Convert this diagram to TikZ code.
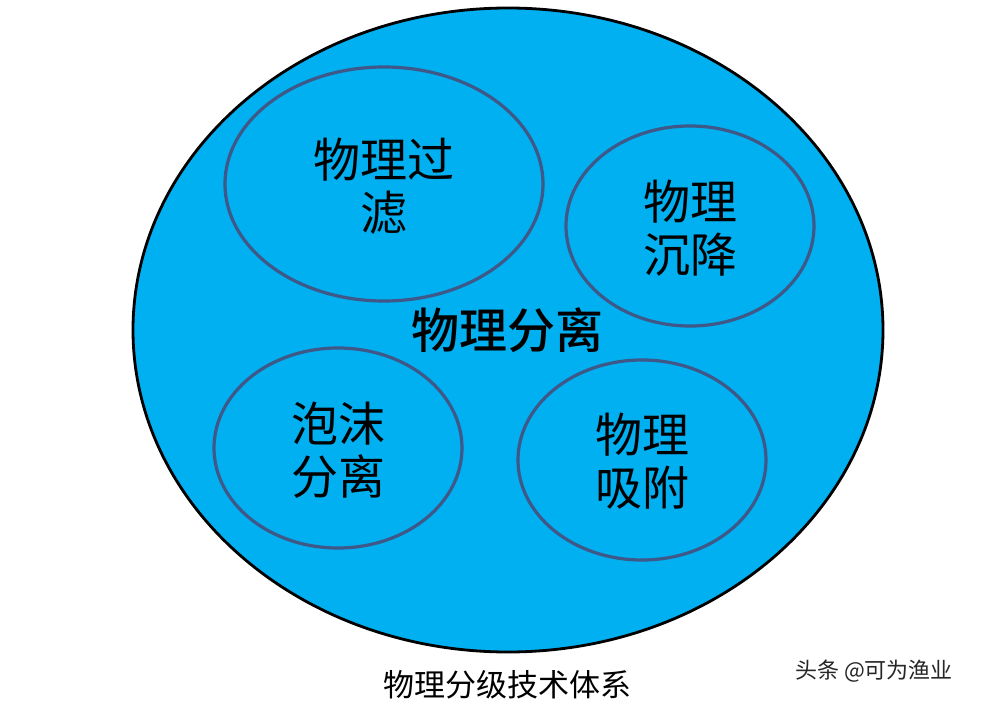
\documentclass[tikz,border=0pt]{standalone}
\usepackage{fontspec}
\newfontfamily\cjk{Noto Sans CJK SC}
\newfontfamily\cjkb{Noto Sans CJK SC Medium}
\definecolor{skyfill}{HTML}{00B0F0}
\definecolor{ringcol}{HTML}{3F5888}
\begin{document}
\begin{tikzpicture}[x=1pt,y=-1pt,
  inner/.style={draw=ringcol,line width=3.2pt,fill=skyfill},
  lbl/.style={font=\cjk\fontsize{47}{53}\selectfont,align=center,text=black,inner sep=0pt}]
\useasboundingbox (0,0) rectangle (986,704);
\fill[white] (0,0) rectangle (986,704);
\draw[fill=skyfill,line width=2.8pt,draw=black] (508,330) ellipse [x radius=375,y radius=322];
\draw[inner] (384,184) ellipse [x radius=159,y radius=117];
\draw[inner] (690,226) ellipse [x radius=124,y radius=100];
\draw[inner] (338,448) ellipse [x radius=124,y radius=100];
\draw[inner] (642,460) ellipse [x radius=124,y radius=100];
\node[lbl] (t1) at (384,186) {物理过\\滤};
\node[lbl] (t2) at (690,228) {物理\\沉降};
\node[lbl] (t3) at (338,450) {泡沫\\分离};
\node[lbl] (t4) at (642,461) {物理\\吸附};
\node[lbl,font=\cjkb\fontsize{48}{53}\selectfont] (c) at (507,330) {物理分离};
\node[lbl,font=\cjk\fontsize{31}{36}\selectfont] (cap) at (507,685) {物理分级技术体系};
\node[lbl,font=\cjk\fontsize{22}{26}\selectfont,text=black!85] (wm) at (874,671) {头条 @可为渔业};
\end{tikzpicture}
\end{document}
